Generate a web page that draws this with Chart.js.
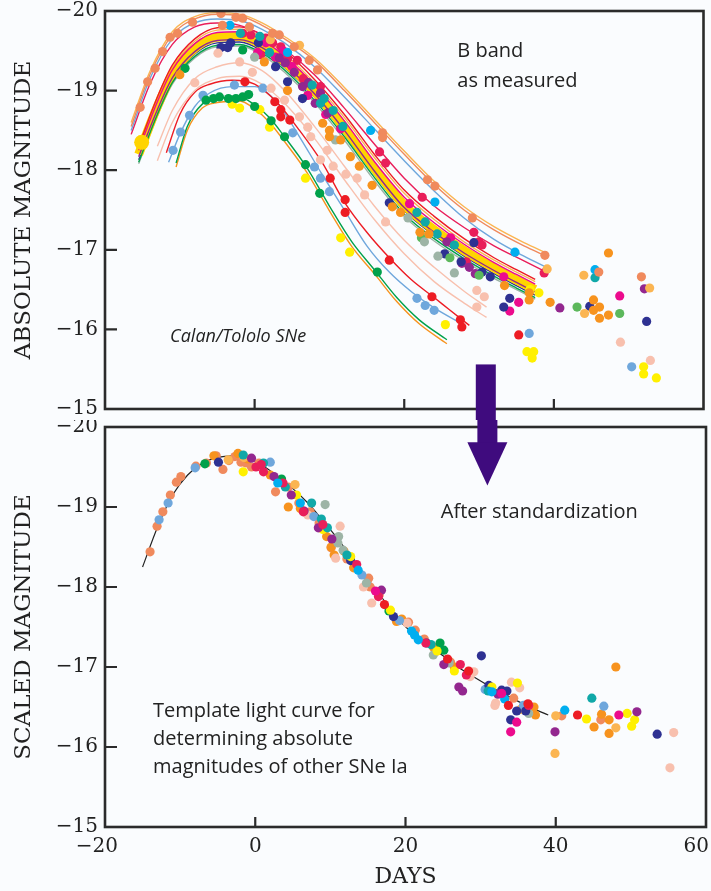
<!DOCTYPE html>
<html>
<head>
<meta charset="utf-8">
<script src="https://cdn.jsdelivr.net/npm/chart.js@4.4.1/dist/chart.umd.min.js"></script>
<style>
  html, body { margin: 0; padding: 0; background: #fafcfe; overflow: hidden; }
  canvas { position: absolute; left: 0; }
  #top { top: 0; }
  #bot { top: 420px; }
</style>
</head>
<body>
<canvas id="top" width="711" height="420"></canvas>
<canvas id="bot" width="711" height="471"></canvas>
<script>
// ---- axis ticks ----
const dayTicks = [-20, 0, 20, 40, 60];
const magTicks = [-20, -19, -18, -17, -16, -15];

// ---- top panel: fitted light curves (days, magnitudes) ----
const fitDaysHi = [-16.5, -14, -11, -8, -5, -2, 1, 4, 8, 12, 16, 20, 24, 28, 32, 36, 39];
const fitSalmonHi = [-18.55, -19.2, -19.7, -19.9, -19.96, -19.94, -19.82, -19.65, -19.38, -19.0, -18.6, -18.2, -17.82, -17.5, -17.25, -17.05, -16.92];
const fitOrangeHi = [-18.6, -19.24, -19.74, -19.93, -19.98, -19.96, -19.85, -19.68, -19.41, -19.04, -18.64, -18.24, -17.86, -17.54, -17.29, -17.09, -16.96];
const fitBlueHi = [-18.5, -19.15, -19.65, -19.85, -19.9, -19.88, -19.77, -19.6, -19.3, -18.92, -18.52, -18.12, -17.74, -17.4, -17.13, -16.92, -16.78];
const fitCrimsonHi = [-18.45, -19.08, -19.58, -19.8, -19.85, -19.82, -19.7, -19.52, -19.2, -18.78, -18.33, -17.9, -17.55, -17.28, -17.05, -16.86, -16.72];

const fitDaysMid = [-15.5, -13, -11, -8, -5, -2, 1, 4, 8, 12, 16, 20, 24, 28, 32, 35, 37.5];
const fitYellow = [-18.2, -18.8, -19.2, -19.53, -19.67, -19.68, -19.57, -19.36, -18.99, -18.53, -18.02, -17.56, -17.25, -16.99, -16.77, -16.62, -16.5];
const fitRedMid = [-18.3, -18.92, -19.32, -19.65, -19.79, -19.8, -19.7, -19.5, -19.14, -18.7, -18.2, -17.75, -17.42, -17.14, -16.9, -16.75, -16.63];
const fitLOrangeMid = [-18.28, -18.89, -19.29, -19.62, -19.76, -19.77, -19.67, -19.46, -19.1, -18.66, -18.16, -17.71, -17.38, -17.1, -16.87, -16.72, -16.6];
const fitMagentaMid = [-18.25, -18.86, -19.26, -19.59, -19.73, -19.74, -19.64, -19.43, -19.07, -18.62, -18.11, -17.66, -17.34, -17.07, -16.84, -16.69, -16.57];
const fitTealMid = [-18.22, -18.82, -19.22, -19.55, -19.69, -19.7, -19.6, -19.39, -19.03, -18.57, -18.06, -17.61, -17.29, -17.03, -16.8, -16.65, -16.53];
const fitPurpleMid = [-18.17, -18.76, -19.16, -19.49, -19.63, -19.64, -19.54, -19.33, -18.96, -18.5, -17.99, -17.53, -17.22, -16.96, -16.74, -16.59, -16.47];
const fitNavyMid = [-18.13, -18.72, -19.12, -19.46, -19.6, -19.61, -19.5, -19.29, -18.92, -18.46, -17.95, -17.49, -17.18, -16.92, -16.7, -16.55, -16.43];
const fitGreenMid = [-18.1, -18.7, -19.1, -19.43, -19.57, -19.58, -19.47, -19.26, -18.88, -18.42, -17.91, -17.45, -17.14, -16.89, -16.67, -16.52, -16.4];
const fitGrayMid = [-18.08, -18.68, -19.08, -19.41, -19.55, -19.56, -19.45, -19.23, -18.85, -18.38, -17.87, -17.42, -17.11, -16.86, -16.64, -16.5, -16.38];

const fitDaysPink = [-13, -11, -8, -5, -2, 1, 4, 8, 12, 16, 20, 24, 28, 31];
const fitPinkA = [-18.3, -18.75, -19.15, -19.3, -19.35, -19.25, -19.0, -18.55, -18.05, -17.55, -17.12, -16.78, -16.48, -16.28];
const fitPinkB = [-18.12, -18.6, -19.0, -19.15, -19.18, -19.08, -18.84, -18.4, -17.88, -17.38, -16.95, -16.6, -16.33, -16.15];

const fitDaysRed = [-11.8, -10, -8, -6, -3, 0, 3, 6, 9, 12, 15, 18, 21, 24, 26, 28.7];
const fitRedLo = [-18.22, -18.7, -18.98, -19.08, -19.13, -19.08, -18.85, -18.5, -18.1, -17.6, -17.22, -16.9, -16.62, -16.4, -16.25, -16.05];
const fitDaysBlue = [-11.5, -10, -8, -6, -3, 0, 3, 6, 9, 12, 15, 18, 21, 24, 27.5];
const fitBlueLo = [-18.1, -18.45, -18.8, -18.97, -19.05, -19.05, -18.85, -18.42, -17.95, -17.5, -17.05, -16.72, -16.47, -16.27, -16.08];
const fitDaysGreen = [-10.5, -9, -7, -5, -2, 0, 2, 4, 7, 10, 13, 16, 19, 22, 25.7];
const fitGreenLo = [-18.09, -18.55, -18.83, -18.9, -18.92, -18.82, -18.66, -18.42, -18.03, -17.55, -17.1, -16.75, -16.4, -16.12, -15.87];
const fitOrangeLo = [-18.04, -18.5, -18.78, -18.85, -18.87, -18.77, -18.6, -18.36, -17.97, -17.49, -17.04, -16.7, -16.35, -16.07, -15.82];

// ---- top panel: measured points [day, mag] ----
const topSalmon = [[-15.3,-18.79],[-14.3,-19.11],[-13.3,-19.28],[-12.3,-19.49],[-11.3,-19.67],[-10.3,-19.72],[-8.3,-19.86],[-4.5,-19.97],[-4.3,-19.82],[-2.5,-19.92],[-1.6,-19.91],[-0.7,-19.8],[2.4,-19.72],[3.3,-19.7],[5.3,-19.55],[7.3,-19.38],[8.4,-19.26],[17.1,-18.47],[17.1,-18.41],[23.1,-17.88],[24.1,-17.8],[29.1,-17.4],[38.8,-16.93],[46,-16.72],[51.7,-16.66]];
const topOrange = [[-10,-19.2],[1.3,-19.36],[4.4,-19.0],[9.1,-18.59],[10,-18.5],[10,-18.42],[11.5,-18.38],[12.8,-18.17],[14,-18.05],[15.7,-17.81],[18.4,-17.54],[19.5,-17.47],[22.1,-17.22],[23.3,-17.2],[33.4,-16.55],[36.7,-16.46],[36.7,-16.37],[39.5,-16.34],[45.3,-16.37],[45.3,-16.24],[46.1,-16.28],[47.3,-16.18],[46.1,-16.14],[47.3,-16.96]];
const topLOrange = [[2.1,-19.64],[6,-19.57],[39.1,-16.76],[44,-16.68],[52.8,-16.52],[44.1,-16.2]];
const topYellow = [[-2,-18.78],[-3,-18.83],[0.7,-18.76],[2,-18.54],[6.8,-17.9],[11.5,-17.15],[12.7,-16.97],[25.5,-16.06],[36.4,-15.72],[37.3,-15.72],[37.1,-15.64],[52,-15.53],[52,-15.44],[53.7,-15.39],[38,-16.46],[36.8,-16.5]];
const topYellowBig = [[-15.1,-18.35]];
const topRed = [[-1.3,-19.11],[2.7,-18.86],[3.5,-18.76],[3.5,-18.67],[4.7,-18.63],[10.1,-17.9],[12.1,-17.63],[12.1,-17.47],[18,-16.87],[23.7,-16.41],[27.5,-16.12],[27.7,-16.03],[35.3,-15.93]];
const topCrimson = [[-1.6,-19.72],[-0.5,-19.7],[1.5,-19.66],[2.4,-19.6],[0.8,-19.45],[3.5,-19.55],[4.4,-19.4],[5.7,-19.38],[6.5,-19.15],[8.8,-19.05],[16.7,-18.23],[17.5,-18.09],[22.4,-17.66],[28.3,-16.85],[29.3,-17.22],[30,-17.1],[30.4,-17.06],[38.7,-16.71]];
const topMagenta = [[0.4,-19.48],[1.5,-19.6],[2.8,-19.42],[3.8,-19.5],[5,-19.3],[7.1,-18.94],[9.5,-18.7],[11.5,-18.52],[20.7,-17.58],[26.2,-17.15],[33.3,-16.66],[35.3,-16.34],[34.1,-16.23],[48.8,-16.42]];
const topPurple = [[3.3,-19.41],[4.1,-19.35],[5.3,-19.23],[6.4,-19.05],[7.2,-19.1],[8.1,-18.84],[8.8,-18.97],[9.8,-18.72],[25.7,-17.1],[27.7,-16.83],[28.7,-16.78],[29.5,-16.7],[40.8,-16.27],[52.1,-16.51]];
const topNavy = [[-4.5,-19.54],[-3.6,-19.54],[-3.2,-19.6],[0.5,-19.6],[2.8,-19.3],[4.4,-19.11],[6.4,-18.9],[18,-17.59],[25.4,-16.95],[27.6,-16.85],[29.3,-17.09],[30.4,-16.72],[31.5,-16.66],[34.1,-16.39],[33.3,-16.28],[44.8,-16.29],[52.4,-16.1]];
const topTeal = [[-1.9,-19.72],[0.7,-19.68],[2,-19.48],[7.7,-19.07],[8.8,-18.84],[9.3,-18.9],[10.5,-18.75],[11.8,-18.55],[21.7,-17.47],[22.8,-17.35],[24.4,-17.2],[26.7,-17.06],[45.5,-16.65]];
const topCyan = [[-3.3,-19.82],[4.4,-19.48],[15.5,-18.5],[24.1,-17.6],[34.8,-16.97],[45.5,-16.75]];
const topLBlue = [[-10.9,-18.25],[-9.9,-18.48],[-8.7,-18.69],[-6.9,-18.94],[-2.7,-19.07],[1.1,-19.03],[5.1,-18.47],[8,-18.04],[8.8,-17.9],[10,-17.73],[21.7,-16.39],[22.8,-16.3],[24,-16.24],[36.7,-15.95],[50.4,-15.53]];
const topGreen = [[-6.5,-18.88],[-5.5,-18.9],[-4.7,-18.92],[-3.5,-18.9],[-2.5,-18.9],[-1.6,-18.92],[-0.8,-18.95],[0,-18.8],[2.2,-18.62],[4,-18.42],[6.8,-18.07],[8.7,-17.71],[16.4,-16.72],[-9.3,-19.28],[-1.6,-19.51]];
const topLGreen = [[22.3,-17.15],[26.1,-16.9],[30,-16.68],[43.1,-16.28],[48.8,-16.2]];
const topGray = [[0,-19.42],[10.8,-18.38],[20.5,-17.4],[22.7,-17.1],[24.5,-16.92],[26.7,-16.71]];
const topPink = [[-8,-19.1],[-4.9,-19.47],[-2,-19.36],[-0.3,-19.23],[2.2,-19.03],[4,-18.88],[6,-18.67],[7.1,-18.54],[7.5,-18.42],[9.7,-18.25],[8.8,-18.13],[10.5,-18.05],[12.2,-17.95],[13.7,-17.9],[14.7,-17.69],[17.5,-17.35],[29.7,-16.49],[30.7,-16.41],[29.7,-16.28],[48.9,-15.84],[52.9,-15.61]];

// ---- bottom panel: template curve and standardized points ----
const templateDays = [-15, -13, -11, -9, -7, -5, -3, -1, 1, 3, 5, 7, 9, 11, 13, 15, 17, 19, 21, 23, 25, 27, 29, 31, 33, 35, 37, 39];
const templateMags = [-18.25, -18.75, -19.15, -19.4, -19.55, -19.62, -19.64, -19.61, -19.52, -19.38, -19.23, -19.05, -18.83, -18.6, -18.35, -18.1, -17.85, -17.6, -17.42, -17.27, -17.14, -17.0, -16.88, -16.77, -16.67, -16.57, -16.48, -16.4];

const botSalmon = [[-14,-18.44],[-13.07,-18.76],[-12.3,-18.94],[-11.3,-19.15],[-10.5,-19.31],[-9.9,-19.38],[-7.9,-19.51],[-6.5,-19.55],[-4.3,-19.47],[-5.2,-19.64],[-3.5,-19.58],[-2.7,-19.63],[-1.9,-19.56],[-1.2,-19.55],[-0.5,-19.5],[0.5,-19.55],[2.7,-19.19],[4.4,-19.25],[5.8,-19.05],[7.3,-18.94],[8.5,-18.8],[10.1,-18.49],[12.2,-18.35],[15.1,-18.11],[15.3,-18.0],[16.5,-17.9],[20.4,-17.56],[21.3,-17.46],[22.5,-17.35],[24.2,-17.2],[26,-17.06],[34.4,-16.61],[40.8,-16.39],[46,-16.34]];
const botLBlue = [[-12.8,-18.84],[-11.6,-19.05],[-8,-19.49],[2,-19.56],[7.8,-18.88],[14.2,-18.15],[19.2,-17.58],[30.6,-16.72],[35.7,-16.52],[46.4,-16.51]];
const botGreen = [[-6.7,-19.54],[3.5,-19.35],[17.8,-17.7],[24.6,-17.3],[25.1,-17.21]];
const botOrange = [[-5.5,-19.64],[-2.3,-19.67],[-1,-19.6],[2,-19.4],[4.4,-19.0],[6,-18.98],[9.5,-18.63],[10.1,-18.5],[10.5,-18.4],[11.8,-18.45],[13.1,-18.24],[18.8,-17.57],[19.5,-17.6],[23.7,-17.25],[26.5,-17.0],[37.1,-16.5],[37.3,-16.4],[45.1,-16.25],[46.1,-16.41],[47.1,-16.17],[47.1,-16.34],[48,-17.0]];
const botNavy = [[-4.9,-19.56],[12.7,-18.33],[18.4,-17.63],[22.8,-17.3],[30.1,-17.14],[31.1,-16.77],[32.8,-16.71],[33.5,-16.7],[34,-16.34],[34.8,-16.45],[36,-16.45],[53.5,-16.16]];
const botLOrange = [[-3.6,-19.59],[-1.5,-19.62],[5.3,-19.28],[35.3,-16.47],[39.9,-15.92],[40,-16.39],[48,-16.24]];
const botTeal = [[-1.6,-19.65],[1.1,-19.55],[4,-19.25],[7.5,-19.05],[8.8,-18.85],[9.6,-18.74],[12.2,-18.4],[23.4,-17.28],[31,-16.7],[44.8,-16.61]];
const botPurple = [[-0.5,-19.61],[2.5,-19.38],[4.8,-19.15],[6.5,-18.95],[8.4,-18.74],[10.2,-18.6],[16.8,-17.96],[25.1,-17.03],[27.1,-16.75],[27.6,-16.7],[32.3,-16.66],[39.9,-16.19],[50.8,-16.44]];
const botCrimson = [[0.1,-19.5],[0.8,-19.53],[1.1,-19.44],[3.7,-19.3],[6.4,-18.94],[9,-18.78],[13.5,-18.28],[16.4,-17.88],[22.7,-17.3],[27.3,-17.03],[28.1,-16.9],[36.4,-16.52]];
const botYellow = [[-1.6,-19.44],[5.5,-19.15],[9,-18.72],[12.7,-18.38],[18,-17.71],[24.2,-17.2],[26.5,-16.95],[31.5,-16.75],[34.9,-16.8],[44.1,-16.35],[49.5,-16.42],[50.1,-16.26],[50.5,-16.34]];
const botGray = [[9.3,-19.03],[11,-18.55],[11.1,-18.63],[11.7,-18.46],[14.8,-18.05],[23.7,-17.15],[25.8,-17.05],[36.4,-16.42]];
const botPink = [[7,-18.9],[10.7,-18.36],[11.3,-18.76],[14.4,-18.0],[15.5,-17.8],[20.2,-17.55],[28.6,-16.88],[29.1,-16.94],[31.9,-16.52],[32,-16.55],[34.1,-16.81],[35.2,-16.74],[55.2,-15.74],[55.7,-16.18]];
const botCyan = [[3,-19.3],[6,-19.05],[13.7,-18.21],[20.8,-17.45],[21.2,-17.4],[21.7,-17.34],[31.5,-16.69],[33.2,-16.6],[41.2,-16.46]];
const botRed = [[17.2,-17.78],[25.6,-17.1],[28.4,-16.95],[33.7,-16.52],[36.3,-16.54],[42.9,-16.4]];
const botMagenta = [[16,-17.95],[32.8,-16.67],[34,-16.19],[34.8,-16.31],[48.4,-16.4]];

// ---- colours ----
const col = {
  salmon: '#f08a5d', orange: '#f7931e', lorange: '#fbb552', yellow: '#fff000', gold: '#ffd400',
  red: '#ed1c24', crimson: '#e91e5a', magenta: '#ec0b8d', purple: '#93278f', navy: '#2e3192',
  teal: '#10a8a8', cyan: '#00aeef', lblue: '#6fa7dc', green: '#00a14b', lgreen: '#5cb85c',
  gray: '#9db4a6', pink: '#f8c0ae'
};

const pts = arr => arr.map(([x, y]) => ({ x, y }));
const curve = (days, mags) => days.map((d, i) => ({ x: d, y: mags[i] }));

function dots(color, arr, r = 4.6) {
  return { type: 'scatter', data: pts(arr), backgroundColor: color, borderWidth: 0, pointRadius: r, order: 0 };
}
function fit(color, days, mags, w = 1.4, order = 5) {
  return {
    type: 'line', data: curve(days, mags), borderColor: color, borderWidth: w,
    pointRadius: 0, fill: false, cubicInterpolationMode: 'monotone', order
  };
}

const minus = v => (v < 0 ? '\u2212' : '') + Math.abs(v);
const serif = 'DejaVu Serif';
const sans = 'Open Sans';
const noteFont = '20px "' + sans + '"';

// frame, inner tick marks, notes and arrow
const decor = {
  id: 'decor',
  afterDraw(chart, args, o) {
    const { ctx, chartArea: a, scales: { x, y } } = chart;
    ctx.save();
    ctx.strokeStyle = '#2b2b2b';
    ctx.lineWidth = 2.6;
    ctx.strokeRect(a.left, a.top, a.right - a.left, a.bottom - a.top);
    ctx.lineWidth = 2.2;
    ctx.beginPath();
    y.ticks.forEach(t => {
      if (t.value > y.min && t.value < y.max) {
        const p = y.getPixelForValue(t.value);
        ctx.moveTo(a.left, p); ctx.lineTo(a.left + 12, p);
      }
    });
    dayTicks.forEach(v => {
      if (v > x.min && v < x.max) {
        const p = x.getPixelForValue(v);
        ctx.moveTo(p, a.bottom); ctx.lineTo(p, a.bottom - 10);
      }
    });
    ctx.stroke();

    ctx.fillStyle = '#222';
    (o.notes || []).forEach(n => {
      ctx.font = n.font;
      ctx.textAlign = 'left';
      ctx.textBaseline = 'alphabetic';
      ctx.fillText(n.text, x.getPixelForValue(n.x), y.getPixelForValue(n.y));
    });

    if (o.dayLabels) {
      ctx.font = '20px "' + serif + '"';
      ctx.textBaseline = 'middle';
      dayTicks.forEach((v, i) => {
        const p = x.getPixelForValue(v);
        if (i === 0) { ctx.textAlign = 'right'; ctx.fillText(minus(v), p + 13, a.bottom + 20); }
        else if (i === dayTicks.length - 1) { ctx.textAlign = 'right'; ctx.fillText(minus(v), p + 3, a.bottom + 20); }
        else { ctx.textAlign = 'center'; ctx.fillText(minus(v), p, a.bottom + 20); }
      });
    }

    if (o.arrow) {
      const ar = o.arrow;
      const cx = x.getPixelForValue(ar.day);
      ctx.fillStyle = '#3f0b7e';
      if (ar.part === 'tail') {
        const t = y.getPixelForValue(ar.from);
        ctx.fillRect(cx - 10, t, 20, chart.height - t);
      } else {
        const hb = y.getPixelForValue(ar.headBase);
        const tip = y.getPixelForValue(ar.tip);
        ctx.fillRect(cx - 10, 0, 20, hb + 1);
        ctx.beginPath();
        ctx.moveTo(cx - 20, hb); ctx.lineTo(cx + 20, hb); ctx.lineTo(cx, tip); ctx.closePath();
        ctx.fill();
      }
    }
    ctx.restore();
  }
};

function scales(title, xHeight) {
  return {
    x: {
      type: 'linear', min: -20, max: 60,
      ticks: { display: false, stepSize: 20 },
      grid: { display: false }, border: { display: false },
      title: xHeight > 20 ? { display: true, text: 'DAYS', color: '#222', font: { family: serif, size: 22 }, padding: { top: 0, bottom: 1 } } : { display: false },
      afterFit: s => { s.height = xHeight; s.paddingLeft = 0; s.paddingRight = 0; }
    },
    y: {
      type: 'linear', min: -20, max: -15, reverse: true,
      afterBuildTicks: s => { s.ticks = magTicks.map(v => ({ value: v })); },
      ticks: { callback: minus, color: '#222', font: { family: serif, size: 20 }, padding: 7 },
      grid: { display: false, drawTicks: false }, border: { display: false },
      title: { display: true, text: title, color: '#222', font: { family: serif, size: 23 }, padding: { top: 10, bottom: 0 } },
      afterFit: s => { s.width = 105; s.paddingTop = 0; s.paddingBottom = 0; }
    }
  };
}

const common = (pad, title, xh, deco) => ({
  responsive: false, animation: false,
  layout: { padding: pad },
  plugins: { legend: { display: false }, tooltip: { enabled: false }, decor: deco },
  scales: scales(title, xh)
});

// thin fits with order 7 sit under the thick yellow band (order 6), order 5 lie on top of it
new Chart(document.getElementById('top'), {
  type: 'scatter',
  data: {
    datasets: [
      dots(col.salmon, topSalmon), dots(col.orange, topOrange), dots(col.lorange, topLOrange),
      dots(col.pink, topPink), dots(col.gray, topGray), dots(col.lgreen, topLGreen),
      dots(col.green, topGreen), dots(col.lblue, topLBlue), dots(col.cyan, topCyan),
      dots(col.teal, topTeal), dots(col.navy, topNavy), dots(col.purple, topPurple),
      dots(col.magenta, topMagenta), dots(col.crimson, topCrimson), dots(col.red, topRed),
      dots(col.yellow, topYellow), dots(col.gold, topYellowBig, 7.5),
      fit(col.salmon, fitDaysHi, fitSalmonHi), fit(col.lorange, fitDaysHi, fitOrangeHi),
      fit(col.lblue, fitDaysHi, fitBlueHi), fit(col.crimson, fitDaysHi, fitCrimsonHi),
      fit(col.red, fitDaysMid, fitRedMid), fit(col.lorange, fitDaysMid, fitLOrangeMid, 1.4, 7),
      fit(col.magenta, fitDaysMid, fitMagentaMid), fit(col.teal, fitDaysMid, fitTealMid, 1.4, 7),
      fit(col.purple, fitDaysMid, fitPurpleMid), fit(col.navy, fitDaysMid, fitNavyMid, 1.4, 7),
      fit(col.green, fitDaysMid, fitGreenMid), fit(col.gray, fitDaysMid, fitGrayMid, 1.4, 7),
      fit(col.pink, fitDaysPink, fitPinkA), fit(col.pink, fitDaysPink, fitPinkB),
      fit(col.red, fitDaysRed, fitRedLo), fit(col.lblue, fitDaysBlue, fitBlueLo),
      fit(col.green, fitDaysGreen, fitGreenLo), fit(col.orange, fitDaysGreen, fitOrangeLo),
      fit(col.gold, fitDaysMid, fitYellow, 9, 6)
    ]
  },
  options: common({ top: 11, right: 5, left: 0, bottom: 0 }, 'ABSOLUTE MAGNITUDE', 11, {
    notes: [
      { text: 'B band', x: 27.1, y: -19.42, font: noteFont },
      { text: 'as measured', x: 27.1, y: -19.05, font: noteFont },
      { text: 'Calan/Tololo SNe', x: -11.3, y: -15.84, font: 'italic 18px "' + sans + '"' }
    ],
    arrow: { part: 'tail', day: 30.9, from: -15.56 }
  }),
  plugins: [decor]
});

new Chart(document.getElementById('bot'), {
  type: 'scatter',
  data: {
    datasets: [
      dots(col.magenta, botMagenta), dots(col.red, botRed), dots(col.cyan, botCyan),
      dots(col.crimson, botCrimson), dots(col.purple, botPurple), dots(col.teal, botTeal),
      dots(col.yellow, botYellow), dots(col.navy, botNavy), dots(col.green, botGreen),
      dots(col.lblue, botLBlue), dots(col.gray, botGray), dots(col.pink, botPink),
      dots(col.lorange, botLOrange), dots(col.orange, botOrange), dots(col.salmon, botSalmon),
      fit('#222', templateDays, templateMags, 1.2, 9)
    ]
  },
  options: common({ top: 7, right: 5, left: 0, bottom: 0 }, 'SCALED MAGNITUDE', 64, {
    notes: [
      { text: 'After standardization', x: 24.7, y: -18.86, font: noteFont },
      { text: 'Template light curve for', x: -13.6, y: -16.37, font: noteFont },
      { text: 'determining absolute', x: -13.6, y: -16.02, font: noteFont },
      { text: 'magnitudes of other SNe Ia', x: -13.6, y: -15.67, font: noteFont }
    ],
    dayLabels: true,
    arrow: { part: 'head', day: 30.9, headBase: -19.81, tip: -19.27 }
  }),
  plugins: [decor]
});
</script>
</body>
</html>
